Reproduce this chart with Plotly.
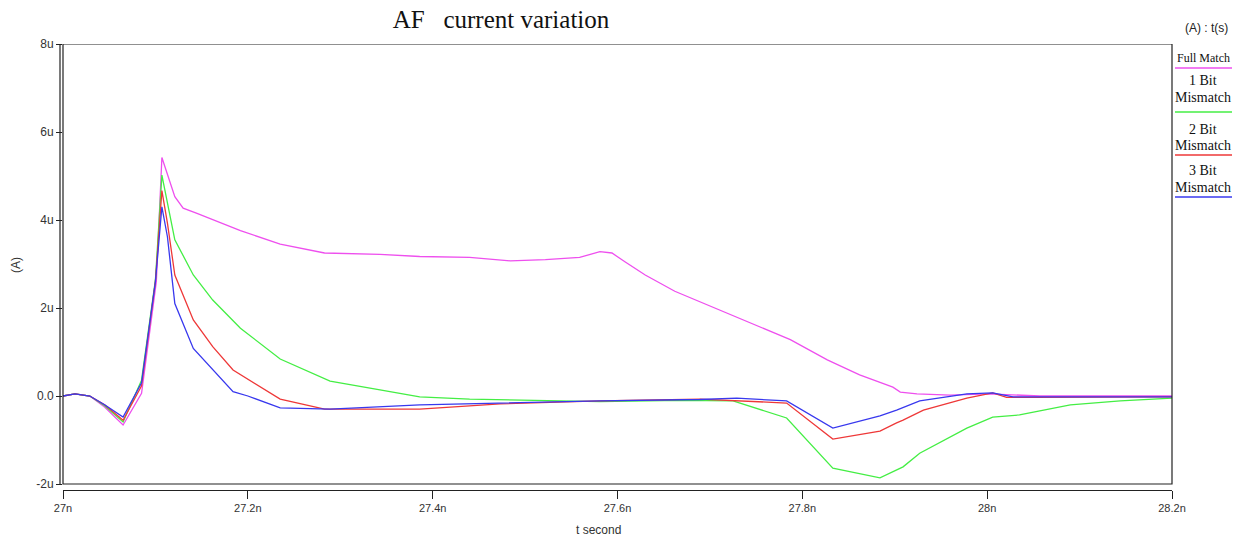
import plotly.graph_objects as go

# ---- data (time in ns, current in uA) ----
t_full = [27.0, 27.013, 27.029, 27.045, 27.065, 27.085, 27.101, 27.107, 27.121, 27.13, 27.145,
          27.192, 27.235, 27.283, 27.343, 27.386, 27.44, 27.484, 27.522, 27.559, 27.581, 27.594,
          27.608, 27.63, 27.662, 27.722, 27.787, 27.827, 27.862, 27.898, 27.906, 27.924, 27.96,
          28.001, 28.057, 28.2]
i_full = [0.0, 0.05, 0.0, -0.25, -0.66, 0.06, 2.6, 5.42, 4.53, 4.27, 4.15,
          3.76, 3.45, 3.25, 3.22, 3.17, 3.15, 3.07, 3.1, 3.15, 3.28, 3.25,
          3.05, 2.75, 2.38, 1.86, 1.28, 0.82, 0.48, 0.2, 0.09, 0.05, 0.02,
          0.05, 0.0, 0.0]

t_1bit = [27.0, 27.013, 27.029, 27.045, 27.065, 27.085, 27.1, 27.107, 27.121, 27.141, 27.162,
          27.192, 27.235, 27.289, 27.343, 27.386, 27.44, 27.505, 27.581, 27.668, 27.725, 27.783,
          27.833, 27.884, 27.909, 27.927, 27.978, 28.006, 28.035, 28.057, 28.09, 28.144, 28.2]
i_1bit = [0.0, 0.05, 0.0, -0.22, -0.59, 0.36, 2.64, 5.02, 3.55, 2.75, 2.18,
          1.54, 0.84, 0.34, 0.14, -0.02, -0.07, -0.1, -0.13, -0.1, -0.11, -0.5,
          -1.64, -1.86, -1.61, -1.3, -0.73, -0.48, -0.43, -0.34, -0.2, -0.11, -0.05]

t_2bit = [27.0, 27.013, 27.029, 27.045, 27.065, 27.085, 27.1, 27.107, 27.113, 27.121, 27.141,
          27.162, 27.184, 27.235, 27.283, 27.386, 27.473, 27.581, 27.689, 27.783, 27.833, 27.884,
          27.902, 27.909, 27.931, 27.978, 28.006, 28.021, 28.05, 28.2]
i_2bit = [0.0, 0.05, 0.0, -0.2, -0.55, 0.23, 2.6, 4.67, 3.93, 2.75, 1.73,
          1.12, 0.59, -0.07, -0.3, -0.3, -0.18, -0.11, -0.07, -0.16, -0.98, -0.8,
          -0.61, -0.55, -0.32, -0.05, 0.07, -0.03, -0.03, -0.02]

t_3bit = [27.0, 27.013, 27.029, 27.045, 27.065, 27.085, 27.1, 27.107, 27.113, 27.121, 27.141,
          27.184, 27.2, 27.235, 27.289, 27.386, 27.581, 27.689, 27.729, 27.783, 27.833, 27.884,
          27.902, 27.927, 27.978, 28.006, 28.028, 28.057, 28.2]
i_3bit = [0.0, 0.05, 0.0, -0.2, -0.48, 0.3, 2.6, 4.3, 3.62, 2.1, 1.08,
          0.1, 0.0, -0.27, -0.3, -0.2, -0.11, -0.08, -0.05, -0.11, -0.73, -0.45,
          -0.32, -0.11, 0.05, 0.07, -0.02, -0.02, -0.02]

series_names = ["Full Match", "1 Bit Mismatch", "2 Bit Mismatch", "3 Bit Mismatch"]
x_ticks = [27.0, 27.2, 27.4, 27.6, 27.8, 28.0, 28.2]
x_tick_labels = ["27n", "27.2n", "27.4n", "27.6n", "27.8n", "28n", "28.2n"]
y_ticks = [-2, 0, 2, 4, 6, 8]
y_tick_labels = ["-2u", "0.0", "2u", "4u", "6u", "8u"]

colors = ["#ee4fee", "#44ee44", "#ee3838", "#3838ee"]

W, H = 1240, 542
L, R, T, B = 63, 68, 44, 52
PW, PH = W - L - R, H - T - B


def px2x(px):
    return (px - L) / PW


def px2y(py):
    return (H - B - py) / PH


fig = go.Figure()
for tx, iy, name, c in zip([t_full, t_1bit, t_2bit, t_3bit],
                           [i_full, i_1bit, i_2bit, i_3bit], series_names, colors):
    fig.add_trace(go.Scatter(x=tx, y=iy, mode="lines", name=name,
                             line=dict(color=c, width=1.3), showlegend=False))

serif = "Liberation Serif, Times New Roman, serif"
sans = "Liberation Sans, Arial, sans-serif"


def ann(text, px, py, font, **kw):
    d = dict(text=text, x=px2x(px), y=px2y(py), xref="paper", yref="paper",
             xanchor="center", yanchor="middle", showarrow=False, font=font)
    d.update(kw)
    return d


annotations = [
    ann("(A)", 16, 265, dict(family=sans, size=12, color="#333"), textangle=-90),
    ann("t second", 598, 530, dict(family=sans, size=12, color="#333")),
    ann("(A) : t(s)", 1206, 28, dict(family=sans, size=12, color="#222")),
]

legend_rows = [
    (["Full Match"], [58], 68),
    (["1 Bit", "Mismatch"], [80, 97], 112),
    (["2 Bit", "Mismatch"], [129, 145], 155),
    (["3 Bit", "Mismatch"], [170, 187], 197),
]
shapes = []
for (lines, ys, ly), c in zip(legend_rows, colors):
    for txt, yy in zip(lines, ys):
        annotations.append(ann(txt, 1203, yy,
                               dict(family=serif, size=14 if txt != "Full Match" else 12,
                                    color="#111")))
    shapes.append(dict(type="line", xref="paper", yref="paper", x0=px2x(1175), x1=px2x(1232),
                       y0=px2y(ly), y1=px2y(ly), line=dict(color=c, width=1.5)))

# plot frame box and double left edge
shapes.append(dict(type="rect", xref="paper", yref="y", x0=0, x1=1, y0=-2, y1=8,
                   line=dict(color="#222", width=1.2), layer="above"))
shapes.append(dict(type="line", xref="paper", yref="y", x0=px2x(60), x1=px2x(60), y0=-2, y1=8,
                   line=dict(color="#222", width=1.2)))

fig.update_layout(
    width=W, height=H,
    margin=dict(l=L, r=R, t=T, b=B),
    paper_bgcolor="white", plot_bgcolor="white",
    title=dict(text="AF&nbsp;&nbsp;&nbsp;current variation", x=px2x(501), xref="paper",
               xanchor="center", y=1 - 19 / H, yref="container", yanchor="middle",
               font=dict(family=serif, size=25, color="#111")),
    xaxis=dict(range=[27.0, 28.2], tickvals=x_ticks, ticktext=x_tick_labels,
               showgrid=False, zeroline=False, showline=True, linecolor="#222", linewidth=1.2,
               ticks="outside", ticklen=8, tickcolor="#222",
               tickfont=dict(family=sans, size=11, color="#333")),
    yaxis=dict(range=[-2 - 6 / 44, 8], tickvals=y_ticks, ticktext=y_tick_labels,
               showgrid=False, zeroline=False, showline=False,
               ticks="outside", ticklen=6, tickcolor="#222",
               tickfont=dict(family=sans, size=12, color="#333")),
    annotations=annotations,
    shapes=shapes,
)

fig.write_html("out.html")
